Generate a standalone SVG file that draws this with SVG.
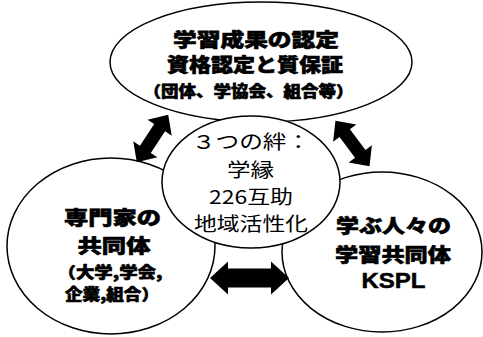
<svg xmlns="http://www.w3.org/2000/svg" width="483" height="337" viewBox="0 0 483 337">
  <defs>
    <style>
      .node { fill: #ffffff; stroke: #000000; stroke-width: 1.5; }
      .b { font-family: "Noto Sans CJK JP", "Liberation Sans", sans-serif; font-weight: 900; fill: #000; stroke: #000; stroke-width: 0.6; text-anchor: middle; }
      .n { font-family: "Noto Sans CJK JP", "Liberation Sans", sans-serif; font-weight: normal; fill: #000; text-anchor: middle; }
      .lat { font-family: "Liberation Sans", Arial, sans-serif; font-weight: bold; fill: #000; stroke: #000; stroke-width: 0.5; text-anchor: middle; }
      .arrow { fill: #000000; stroke: none; }
    </style>
    <path id="dbl" d="M -28.5 0 L -13 -14.5 L -13 -6.5 L 13 -6.5 L 13 -14.5 L 28.5 0 L 13 14.5 L 13 6.5 L -13 6.5 L -13 14.5 Z"/>
  </defs>

  <rect x="0" y="0" width="483" height="337" fill="#ffffff"/>

  <g id="node-experts">
    <ellipse class="node" cx="111" cy="246" rx="104" ry="88"/>
    <text class="b" x="112.5" y="224.5" font-size="19" textLength="97" lengthAdjust="spacingAndGlyphs">専門家の</text>
    <text class="b" x="114" y="252.5" font-size="19" textLength="73" lengthAdjust="spacingAndGlyphs">共同体</text>
    <text class="b" x="110" y="278" font-size="15.5" textLength="105" lengthAdjust="spacingAndGlyphs">（大学,学会,</text>
    <text class="b" x="112" y="300" font-size="15.5" textLength="94" lengthAdjust="spacingAndGlyphs">企業,組合）</text>
  </g>

  <g id="node-learners">
    <ellipse class="node" cx="382" cy="252" rx="100" ry="80"/>
    <text class="b" x="393.5" y="232.5" font-size="19" textLength="115" lengthAdjust="spacingAndGlyphs">学ぶ人々の</text>
    <text class="b" x="393" y="261.5" font-size="19" textLength="116" lengthAdjust="spacingAndGlyphs">学習共同体</text>
    <text class="lat" x="393.5" y="288" font-size="22" textLength="64" lengthAdjust="spacingAndGlyphs">KSPL</text>
  </g>

  <g id="node-recognition">
    <ellipse class="node" cx="261" cy="62" rx="151" ry="60"/>
    <text class="b" x="256" y="46.5" font-size="19" textLength="166" lengthAdjust="spacingAndGlyphs">学習成果の認定</text>
    <text class="b" x="255" y="71.5" font-size="19" textLength="176" lengthAdjust="spacingAndGlyphs">資格認定と質保証</text>
    <text class="b" x="248.5" y="97" font-size="15.5" textLength="210" lengthAdjust="spacingAndGlyphs">（団体、学協会、組合等）</text>
  </g>

  <g id="node-bonds">
    <ellipse class="node" cx="251" cy="182" rx="89" ry="66"/>
    <text class="n" x="251" y="148.5" font-size="19" textLength="118" lengthAdjust="spacingAndGlyphs">３つの絆：</text>
    <text class="n" x="250.5" y="176.5" font-size="19" textLength="47" lengthAdjust="spacingAndGlyphs">学縁</text>
    <text class="n" x="251" y="203.5" font-size="19" textLength="84" lengthAdjust="spacingAndGlyphs">226互助</text>
    <text class="n" x="251" y="230.5" font-size="19" textLength="114" lengthAdjust="spacingAndGlyphs">地域活性化</text>
  </g>

  <g id="connectors">
    <use href="#dbl" class="arrow" transform="translate(152.5 138.5) rotate(-56.6)"/>
    <use href="#dbl" class="arrow" transform="translate(352.5 143.5) rotate(53.3)"/>
    <path class="arrow" d="M 210 278 L 228 261.5 L 228 268.5 L 271 268.5 L 271 261.5 L 289 278 L 271 294.5 L 271 287.5 L 228 287.5 L 228 294.5 Z"/>
  </g>
</svg>
